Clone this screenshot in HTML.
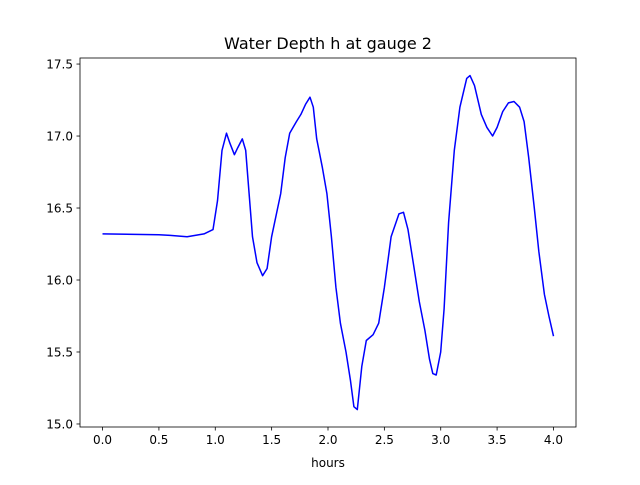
<!DOCTYPE html>
<html><head><meta charset="utf-8"><style>
body{margin:0;background:#fff;font-family:"Liberation Sans","DejaVu Sans",sans-serif;}
svg text{font-family:"DejaVu Sans","Liberation Sans",sans-serif;}
</style></head><body>
<svg id="chart" width="640" height="480">
<rect width="640" height="480" fill="#fff"/>
<text x="328" y="49" text-anchor="middle" font-size="16">Water Depth h at gauge 2</text>
<g id="axes"></g>
<text x="328" y="467" text-anchor="middle" font-size="12">hours</text>
</svg>
<script>
const xs=[0,0.5,0.6,0.75,0.9,0.98,1.02,1.06,1.1,1.13,1.17,1.2,1.24,1.27,1.3,1.33,1.37,1.42,1.46,1.5,1.58,1.62,1.66,1.72,1.76,1.8,1.84,1.87,1.9,1.95,1.99,2.03,2.07,2.11,2.16,2.2,2.23,2.26,2.3,2.34,2.4,2.45,2.5,2.56,2.63,2.67,2.71,2.76,2.81,2.86,2.9,2.93,2.96,3.0,3.03,3.07,3.12,3.17,3.23,3.26,3.3,3.36,3.41,3.46,3.5,3.55,3.6,3.65,3.7,3.74,3.78,3.83,3.87,3.92,3.96,4.0];
const ys=[16.32,16.315,16.31,16.30,16.32,16.35,16.55,16.9,17.02,16.95,16.87,16.92,16.98,16.9,16.6,16.3,16.12,16.03,16.08,16.3,16.6,16.85,17.02,17.1,17.15,17.22,17.27,17.2,16.98,16.78,16.6,16.3,15.95,15.7,15.5,15.3,15.12,15.1,15.4,15.58,15.62,15.7,15.95,16.3,16.46,16.47,16.35,16.1,15.85,15.65,15.45,15.35,15.34,15.5,15.8,16.4,16.9,17.2,17.4,17.42,17.35,17.15,17.06,17.0,17.06,17.17,17.23,17.24,17.2,17.1,16.85,16.5,16.2,15.9,15.75,15.61];
const xTicks=[0,0.5,1,1.5,2,2.5,3,3.5,4];
const yTicks=[15.0,15.5,16.0,16.5,17.0,17.5];
const L=80,R=576,T=58,B=427;
const xMin=-0.2,xMax=4.2,yMin=14.979,yMax=17.542;
const sx=v=>L+(v-xMin)/(xMax-xMin)*(R-L);
const sy=v=>B-(v-yMin)/(yMax-yMin)*(B-T);
const g=document.getElementById('axes');
const NS='http://www.w3.org/2000/svg';
function mk(t,a){const e=document.createElementNS(NS,t);for(const k in a)e.setAttribute(k,a[k]);g.appendChild(e);return e;}
let d=xs.map((x,i)=>(i?'L':'M')+sx(x).toFixed(1)+','+sy(ys[i]).toFixed(1)).join(' ');
const line=mk('path',{d:d,fill:'none',stroke:'#0000ff','stroke-width':1.5,'stroke-linejoin':'round'});


const frame=mk('rect',{x:L,y:T,width:R-L,height:B-T,fill:'none',stroke:'#000','stroke-width':0.8});


xTicks.forEach(v=>{
 mk('line',{x1:sx(v),x2:sx(v),y1:B,y2:B+3.5,stroke:'#000','stroke-width':0.8});
 const t=mk('text',{x:sx(v),y:B+17,'text-anchor':'middle','font-size':12});
 t.textContent=v.toFixed(1);
 
 
});
yTicks.forEach(v=>{
 mk('line',{x1:L-3.5,x2:L,y1:sy(v),y2:sy(v),stroke:'#000','stroke-width':0.8});
 const t=mk('text',{x:L-7,y:sy(v)+4.5,'text-anchor':'end','font-size':12});
 t.textContent=v.toFixed(1);
 
 
});
</script>
</body></html>
